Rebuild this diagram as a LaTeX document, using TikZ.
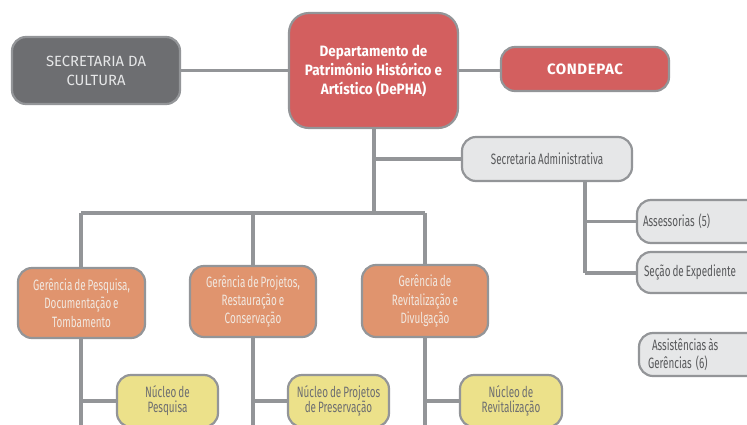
\documentclass[tikz,border=0pt]{standalone}
\usepackage{fontspec}
\usetikzlibrary{backgrounds}
\setmainfont{Fira Sans}
\newfontfamily\condf[FakeStretch=0.66,WordSpace=0.75]{Fira Sans}
\newfontfamily\boldf[FakeStretch=0.9]{Fira Sans}
\newfontfamily\widebold[LetterSpace=4]{Fira Sans}
\definecolor{linegray}{HTML}{939598}
\definecolor{darkbox}{HTML}{6D6E71}
\definecolor{redbox}{HTML}{D35F5F}
\definecolor{orangebox}{HTML}{E0946E}
\definecolor{yellowbox}{HTML}{ECE18A}
\definecolor{lightbox}{HTML}{E6E7E8}
\definecolor{graytext}{HTML}{58595B}
\definecolor{orangetext}{HTML}{F1E8E0}
\definecolor{dargtext}{HTML}{E6E7E8}
\tikzset{
  box/.style={draw=linegray, line width=2.2pt, rounded corners=14pt, align=center, inner sep=0pt},
  conn/.style={draw=linegray, line width=3.5pt},
  darkstyle/.style={box, fill=darkbox, text=dargtext, font=\fontsize{14.8}{19}\selectfont},
  redstyle/.style={box, fill=redbox, text=white, font=\boldf\bfseries\fontsize{15}{19}\selectfont},
  orangestyle/.style={box, fill=orangebox, text=orangetext, font=\condf\fontsize{15}{18.3}\selectfont},
  yellowstyle/.style={box, fill=yellowbox, text=darkbox, font=\condf\fontsize{15}{15}\selectfont},
  lightstyle/.style={box, fill=lightbox, text=graytext, font=\condf\fontsize{15}{18}\selectfont},
}
\newcommand{\lft}[2]{\makebox[#1][l]{#2}}
\begin{document}
\begin{tikzpicture}[x=1pt,y=-1pt]
\useasboundingbox (0,0) rectangle (747,424);
\clip (0,0) rectangle (747,424);
% nodes
\node[darkstyle, minimum width=168pt, minimum height=67pt] (sec) at (96,70.5) {SECRETARIA DA\\CULTURA};
\node[redstyle, minimum width=169pt, minimum height=115pt, rounded corners=20pt] (dep) at (373.5,70.5) {Departamento de\\Patrimônio Histórico e\\Artístico (DePHA)};
\node[redstyle, minimum width=168pt, minimum height=44pt, font=\widebold\bfseries\fontsize{15}{19}\selectfont] (cond) at (585,69) {CONDEPAC};
\node[lightstyle, minimum width=170pt, minimum height=44pt] (adm) at (547,159) {Secretaria Administrativa};
\node[lightstyle, minimum width=140pt, minimum height=43pt] (ass) at (707,221.5) {\lft{128pt}{Assessorias\hspace{4pt}(5)}};
\node[lightstyle, minimum width=140pt, minimum height=41pt] (exp) at (707,272.5) {\lft{126pt}{Seção de Expediente}};
\node[lightstyle, minimum width=140pt, minimum height=43pt, font=\condf\fontsize{15}{17.5}\selectfont] (assist) at (709,354.5) {\lft{122pt}{\hspace*{4pt}Assistências às}\\\lft{122pt}{Gerências\hspace{4pt}(6)}};
\node[orangestyle, minimum width=127pt, minimum height=70pt] (g1) at (81.5,303) {Gerência de Pesquisa,\\Documentação e\\Tombamento};
\node[orangestyle, minimum width=126pt, minimum height=71pt] (g2) at (253,301.5) {Gerência de Projetos,\\Restauração e\\Conservação};
\node[orangestyle, minimum width=126pt, minimum height=72pt] (g3) at (425,301) {Gerência de\\Revitalização e\\Divulgação};
\node[yellowstyle, minimum width=101pt, minimum height=52pt] (n1) at (167.5,401) {Núcleo de\\Pesquisa};
\node[yellowstyle, minimum width=101pt, minimum height=52pt] (n2) at (338.5,401) {Núcleo de Projetos\\de Preservação};
\node[yellowstyle, minimum width=102pt, minimum height=52pt] (n3) at (511,401) {Núcleo de\\Revitalização};
% helper coordinates
\coordinate (tj) at (374,213);
\coordinate (hl) at (81,213);
\coordinate (hr) at (425,213);
\coordinate (ab) at (585,181);
\coordinate (ae) at (585,273);
\coordinate (b1) at (81,430);
\coordinate (b2) at (253,430);
\coordinate (b3) at (425,430);
% connectors (behind nodes)
\begin{scope}[on background layer]
\fill[white] (0,0) rectangle (747,424);
\draw[conn] (sec.east) -- (dep.west);
\draw[conn] (dep.east) -- (cond.west |- dep.east);
\draw[conn] (dep.south -| tj) -- (tj);
\draw[conn] (tj |- adm.west) -- (adm.west);
\draw[conn] (hl) -- (hr);
\draw[conn] (hl) -- (g1.north -| hl);
\draw[conn] (tj -| g2.north) -- (g2.north);
\draw[conn] (hr) -- (g3.north -| hr);
\draw[conn] (g1.south -| b1) -- (b1);
\draw[conn] (g2.south) -- (b2);
\draw[conn] (g3.south) -- (b3);
\draw[conn] (n1.west -| b1) -- (n1.west);
\draw[conn] (n2.west -| b2) -- (n2.west);
\draw[conn] (n3.west -| b3) -- (n3.west);
\draw[conn] (ab) -- (ae);
\draw[conn] (ab |- ass.west) -- (ass.west);
\draw[conn] (ae) -- (exp.west |- ae);
\end{scope}
\end{tikzpicture}
\end{document}
